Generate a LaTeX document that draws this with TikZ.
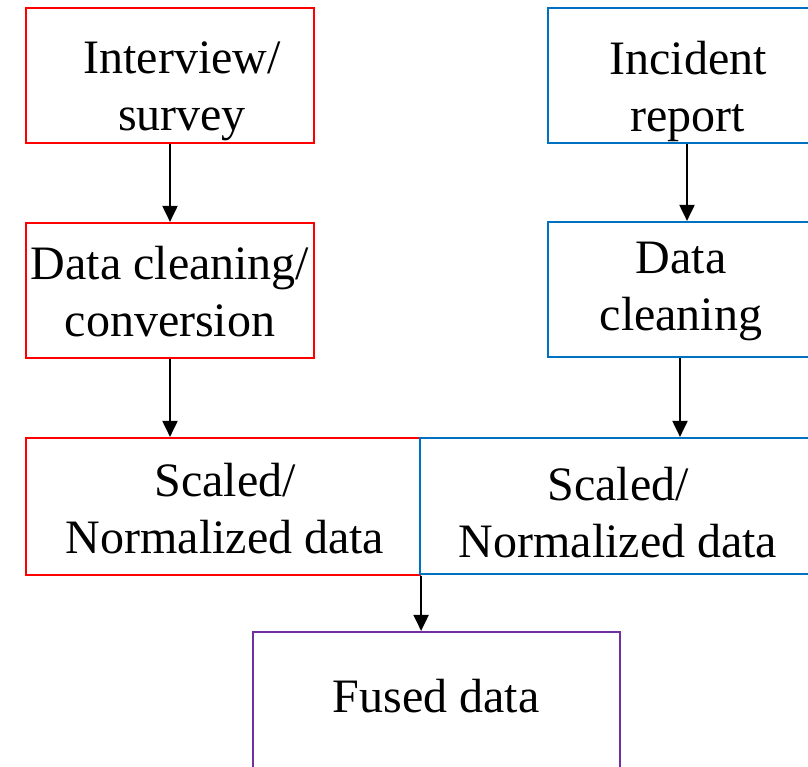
\documentclass[tikz,border=0pt]{standalone}
\usepackage{fontspec}
\setmainfont{Liberation Serif}
\usetikzlibrary{arrows.meta}
\definecolor{boxred}{RGB}{255,0,0}
\definecolor{boxblue}{RGB}{0,112,192}
\definecolor{boxpurple}{RGB}{112,48,160}
\begin{document}
\begin{tikzpicture}[x=1pt,y=-1pt,
  box/.style={draw, line width=2.2pt, rectangle, inner sep=0pt},
  redbox/.style={box, draw=boxred},
  bluebox/.style={box, draw=boxblue},
  purplebox/.style={box, draw=boxpurple},
  txt/.style={anchor=base, align=center, inner sep=0pt,
    font=\fontsize{48}{57}\selectfont},
  arr/.style={draw=black, line width=2pt,
    -{Triangle[length=16pt,width=15pt]}}]
\clip (0,0) rectangle (808,766);
\fill[white] (0,0) rectangle (808,766);

% left column (red)
\node[redbox, minimum width=288pt, minimum height=135pt] (A) at (170,75.5) {};
\node[redbox, minimum width=288pt, minimum height=135pt] (C) at (170,290.5) {};
\node[redbox, minimum width=394pt, minimum height=137pt] (E) at (223,506.5) {};

% right column (blue)
\node[bluebox, minimum width=280pt, minimum height=135pt] (B) at (688,75.5) {};
\node[bluebox, minimum width=266pt, minimum height=135pt] (D) at (681,289.5) {};
\node[bluebox, minimum width=396pt, minimum height=136pt] (F) at (618,506) {};

% fused result
\node[purplebox, minimum width=367pt, minimum height=160pt] (G) at (436.5,712) {};

% labels (anchored at the baseline of their last line)
\node[txt] (tA) at (182,130) {Interview/\\survey};
\node[txt] (tB) at (688,131) {Incident\\report};
\node[txt] (tC) at (170,336) {Data cleaning/\\conversion};
\node[txt] (tD) at (681,330) {Data\\cleaning};
\node[txt] (tE) at (225,553) {Scaled/\\Normalized data};
\node[txt] (tF) at (618,557) {Scaled/\\Normalized data};
\node[txt] (tG) at (436,712) {Fused data};

% connectors
\draw[arr] (A.south) -- (C.north);
\draw[arr] (B.south -| 687,0) -- (D.north -| 687,0);
\draw[arr] (C.south) -- (C.south |- E.north);
\draw[arr] (D.south -| 680,0) -- (F.north -| 680,0);
\draw[arr] (E.south east) -- (E.south east |- G.north);
\end{tikzpicture}
\end{document}
